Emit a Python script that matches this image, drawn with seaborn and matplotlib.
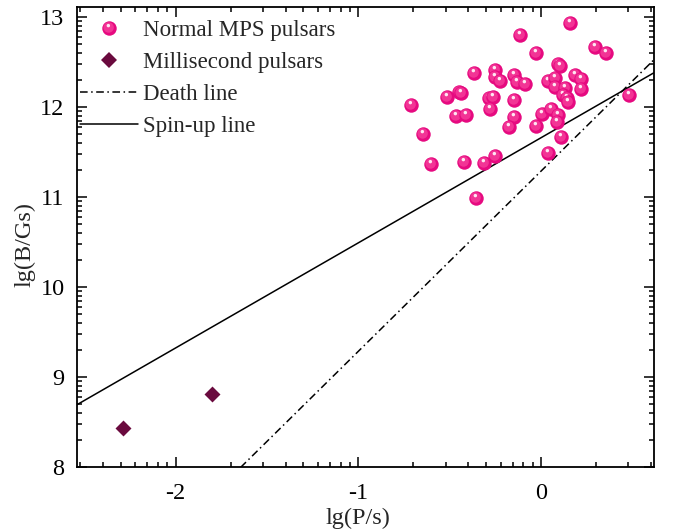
import numpy as np
import pandas as pd
import matplotlib
matplotlib.use("Agg")
import matplotlib.pyplot as plt
import seaborn as sns
from matplotlib.path import Path
from matplotlib.lines import Line2D
from matplotlib.ticker import FixedLocator
from matplotlib.legend_handler import HandlerTuple

# ---------------- data ----------------
normal_lgP = [-0.115, -0.029, -0.368, -0.251, -0.255, -0.224, -0.146, -0.133, -0.086,
              -0.515, -0.452, -0.437, -0.283, -0.261, -0.148, -0.710, -0.279, -0.468,
              -0.411, -0.151, -0.175, -0.029, 0.004, -0.649, -0.601, -0.422, -0.311,
              -0.255, -0.357, 0.158, 0.295, 0.355, 0.093, 0.105, 0.037, 0.073, 0.186,
              0.219, 0.078, 0.131, 0.219, 0.122, 0.140, 0.146, 0.483, 0.053, 0.091,
              0.089, 0.109, 0.038]
normal_lgB = [12.80, 12.597, 12.381, 12.411, 12.33, 12.289, 12.356, 12.281, 12.256,
              12.111, 12.17, 12.159, 12.103, 12.114, 12.078, 12.026, 11.974, 11.90,
              11.911, 11.892, 11.781, 11.786, 11.922, 11.70, 11.37, 11.39, 11.374,
              11.456, 10.99, 12.937, 12.667, 12.603, 12.475, 12.46, 12.292, 12.326, 12.356,
              12.311, 12.226, 12.208, 12.197, 12.133, 12.103, 12.052, 12.137, 11.974, 11.911,
              11.837, 11.663, 11.489]
msp_lgP = [-2.288, -1.803]
msp_lgB = [8.44, 8.81]

spinup_slope, spinup_intercept = 7.0 / 6.0, 11.66
death_slope, death_intercept = 2.0, 11.29
death_start = -1.645

x_major = [-2, -1, 0]
y_major = [8, 9, 10, 11, 12, 13]
x_limits = (-2.54, 0.615)
y_limits = (8.0, 13.11)

labels = ["Normal MPS pulsars", "Millisecond pulsars", "Death line", "Spin-up line"]
x_label = "lg(P/s)"
y_label = "lg(B/Gs)"

# ---------------- style ----------------
sns.set_style("white")
plt.rcParams["font.family"] = ["Liberation Serif", "DejaVu Serif"]
plt.rcParams["axes.unicode_minus"] = False
plt.rcParams["axes.linewidth"] = 1.3
plt.rcParams["axes.axisbelow"] = False
for a in ("x", "y"):
    plt.rcParams[f"{a}tick.direction"] = "in"
    plt.rcParams[f"{a}tick.major.size"] = 7
    plt.rcParams[f"{a}tick.minor.size"] = 3.8
    plt.rcParams[f"{a}tick.major.width"] = 1.1
    plt.rcParams[f"{a}tick.minor.width"] = 1.1
    plt.rcParams[f"{a}tick.color"] = "black"
plt.rcParams["xtick.top"] = True
plt.rcParams["xtick.bottom"] = True
plt.rcParams["ytick.left"] = True
plt.rcParams["ytick.right"] = True

pink_base = "#E60A80"
pink_mid = "#F8479F"
pink_hi = "#FFE6F2"
msp_color = "#6A0A3E"
dashdot = (0, (5.0, 2.3, 1.0, 2.3))


def offset_circle(cx, cy, r):
    circ = Path.circle((cx, cy), r)
    verts = np.vstack([[[0.5, 0.5]], circ.vertices])
    codes = np.concatenate([[Path.MOVETO], circ.codes])
    return Path(verts, codes)


mid_marker = offset_circle(-0.06, 0.07, 0.36)
hi_marker = offset_circle(-0.08, 0.20, 0.12)

fig = plt.figure(figsize=(6.73, 5.29), dpi=100)
ax = fig.add_axes([0.1144, 0.1163, 0.8567, 0.8705])

# lines
x_spin = np.array(x_limits)
spin_df = pd.DataFrame({"x": x_spin, "y": spinup_slope * x_spin + spinup_intercept})
sns.lineplot(data=spin_df, x="x", y="y", color="black", linewidth=1.1, ax=ax, zorder=2)
x_death = np.array([death_start, x_limits[1]])
death_df = pd.DataFrame({"x": x_death, "y": death_slope * x_death + death_intercept})
sns.lineplot(data=death_df, x="x", y="y", color="black", linewidth=1.1,
             linestyle=dashdot, ax=ax, zorder=2)

# millisecond pulsars
msp_df = pd.DataFrame({"lgP": msp_lgP, "lgB": msp_lgB})
sns.scatterplot(data=msp_df, x="lgP", y="lgB", marker="D", s=66, color=msp_color,
                linewidth=0, ax=ax, zorder=3)

# normal pulsars: shaded spheres
S = 108
normal_df = pd.DataFrame({"lgP": normal_lgP, "lgB": normal_lgB})
for i, (px, py) in enumerate(zip(normal_df["lgP"], normal_df["lgB"])):
    z = 4 + i * 0.01
    ax.scatter([px], [py], s=S, marker="o", color=pink_base, linewidths=0, zorder=z)
    ax.scatter([px], [py], s=S, marker=mid_marker, color=pink_mid, linewidths=0,
               zorder=z + 0.003, alpha=0.7)
    ax.scatter([px], [py], s=S, marker=hi_marker, color=pink_hi, linewidths=0,
               zorder=z + 0.006)

ax.set_xlim(*x_limits)
ax.set_ylim(*y_limits)

# ticks
def log_minor(lo, hi):
    out = []
    for n in range(lo, hi):
        for k in range(2, 10):
            out.append(n + np.log10(k))
    return out

ax.xaxis.set_major_locator(FixedLocator(x_major))
ax.yaxis.set_major_locator(FixedLocator(y_major))
ax.xaxis.set_minor_locator(FixedLocator(log_minor(-3, 1)))
ax.yaxis.set_minor_locator(FixedLocator(log_minor(7, 14)))
ax.set_xticklabels([str(v) for v in x_major])
ax.set_yticklabels([str(v) for v in y_major])
ax.tick_params(which="both", direction="in", top=True, right=True, bottom=True, left=True,
               labelsize=17.5, color="black", labelcolor="black")
ax.tick_params(which="major", length=7, width=1.1)
ax.tick_params(which="minor", length=3.8, width=1.1)
ax.tick_params(axis="y", which="major", pad=9)
ax.tick_params(axis="x", which="major", pad=11)
for sp in ax.spines.values():
    sp.set_visible(True)
    sp.set_color("black")
    sp.set_linewidth(1.3)

ax.set_xlabel(x_label, fontsize=17.5)
ax.xaxis.set_label_coords(0.487, -0.088)
ax.set_ylabel(y_label, fontsize=17.5)
ax.yaxis.set_label_coords(-0.072, 0.485)

# legend
h_normal = (Line2D([], [], ls="", marker="o", ms=np.sqrt(S), color=pink_base, mew=0),
            Line2D([], [], ls="", marker=mid_marker, ms=np.sqrt(S), color=pink_mid, mew=0, alpha=0.7),
            Line2D([], [], ls="", marker=hi_marker, ms=np.sqrt(S), color=pink_hi, mew=0))
h_msp = Line2D([], [], ls="", marker="D", ms=np.sqrt(66), color=msp_color, mew=0)
h_death = Line2D([], [], color="black", lw=1.1, linestyle=dashdot)
h_spin = Line2D([], [], color="black", lw=1.1)
ax.legend([h_normal, h_msp, h_death, h_spin], labels, loc="upper left",
          bbox_to_anchor=(0.0, 0.98), frameon=False, fontsize=16.5, handlelength=2.5,
          handletextpad=0.22, borderpad=0.15, borderaxespad=0.0, labelspacing=0.49,
          handler_map={tuple: HandlerTuple(ndivide=1)})

fig.savefig("out.png", dpi=100)
